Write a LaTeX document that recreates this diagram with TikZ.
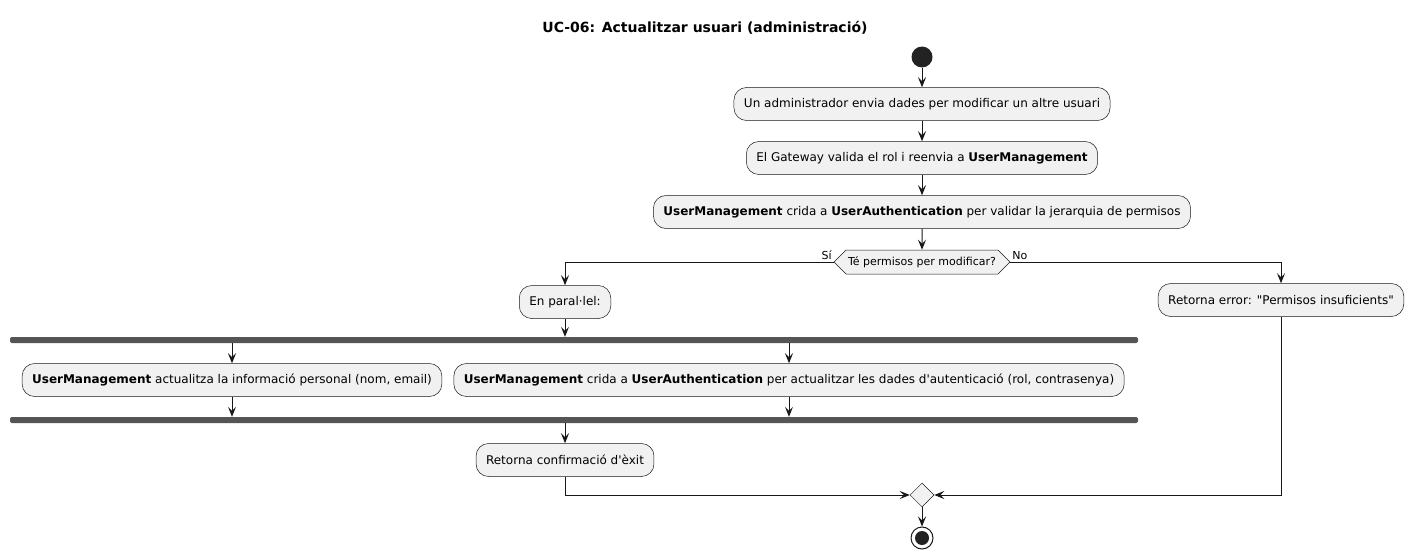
\documentclass[tikz,border=0pt]{standalone}
\usepackage{fontspec}
\setmainfont{DejaVu Sans}
\usetikzlibrary{arrows.meta,shapes.geometric,shapes.symbols}
\definecolor{actfill}{HTML}{F1F1F1}
\definecolor{actline}{HTML}{181818}
\definecolor{barfill}{HTML}{555555}
\definecolor{dotfill}{HTML}{222222}

\begin{document}
\begin{tikzpicture}[x=1pt,y=-1pt,
  action/.style={draw=actline,fill=actfill,line width=0.5pt,rounded corners=12.5pt,
    minimum height=33pt,inner xsep=10pt,font=\fontsize{12}{14}\selectfont},
  flow/.style={draw=actline,line width=1pt,-{Stealth[length=10pt,width=8pt,inset=4pt]}},
  syncbar/.style={fill=barfill,minimum width=1128pt,minimum height=6pt,inner sep=0pt,rounded corners=2pt},
  guard/.style={font=\fontsize{11}{13}\selectfont,inner sep=1.5pt}]

\useasboundingbox (0,0) rectangle (1413,559);

\node[font=\fontsize{14}{16}\selectfont\bfseries] (title) at (705,28) {UC-06: Actualitzar usuari (administració)};

\node[circle,fill=dotfill,minimum size=21pt,inner sep=0pt] (start) at (922,57) {};

\node[action] (send) at (922,104) {Un administrador envia dades per modificar un altre usuari};
\node[action] (gateway) at (922,158) {El Gateway valida el rol i reenvia a \textbf{UserManagement}};
\node[action] (check) at (922,212) {\textbf{UserManagement} crida a \textbf{UserAuthentication} per validar la jerarquia de permisos};

\node[signal,signal to=west and east,draw=actline,fill=actfill,line width=0.5pt,
  minimum height=24pt,inner xsep=2pt,font=\fontsize{11}{13}\selectfont] (decide) at (922,262) {Té permisos per modificar?};

\node[action] (parallel) at (565,302) {En paral·lel:};
\node[action] (reterr) at (1281,300) {Retorna error: \textquotedbl Permisos insuficients\textquotedbl};

\node[syncbar] (forkbar) at (574,340) {};
\node[action] (usrinfo) at (232,380) {\textbf{UserManagement} actualitza la informació personal (nom, email)};
\node[action] (authinfo) at (789,380) {\textbf{UserManagement} crida a \textbf{UserAuthentication} per actualitzar les dades d\textquotesingle autenticació (rol, contrasenya)};
\node[syncbar] (joinbar) at (574,420) {};

\node[action] (retconf) at (565,460) {Retorna confirmació d\textquotesingle èxit};

\node[diamond,draw=actline,fill=actfill,line width=0.5pt,minimum size=24pt,inner sep=0pt] (merge) at (922,495) {};

\node[circle,draw=actline,line width=1pt,fill=white,minimum size=22pt,inner sep=0pt] (stop) at (922,538) {};
\node[circle,fill=dotfill,minimum size=14pt,inner sep=0pt] (stopdot) at (stop) {};

% main flow
\draw[flow] (start) -- (send);
\draw[flow] (send) -- (gateway);
\draw[flow] (gateway) -- (check);
\draw[flow] (check) -- (decide);

% branches
\draw[flow] (decide.west) -| node[guard,pos=0,above left] {Sí} (parallel.north);
\draw[flow] (decide.east) -| node[guard,pos=0,above right] {No} (reterr.north);

% fork / join
\draw[flow] (parallel.south) -- (parallel.south |- forkbar.north);
\draw[flow] (forkbar.south -| usrinfo.north) -- (usrinfo.north);
\draw[flow] (forkbar.south -| authinfo.north) -- (authinfo.north);
\draw[flow] (usrinfo.south) -- (usrinfo.south |- joinbar.north);
\draw[flow] (authinfo.south) -- (authinfo.south |- joinbar.north);
\draw[flow] (joinbar.south -| retconf.north) -- (retconf.north);

% merge
\draw[flow] (retconf.south) |- (merge.west);
\draw[flow] (reterr.south) |- (merge.east);
\draw[flow] (merge.south) -- (stop.north);

\end{tikzpicture}
\end{document}
